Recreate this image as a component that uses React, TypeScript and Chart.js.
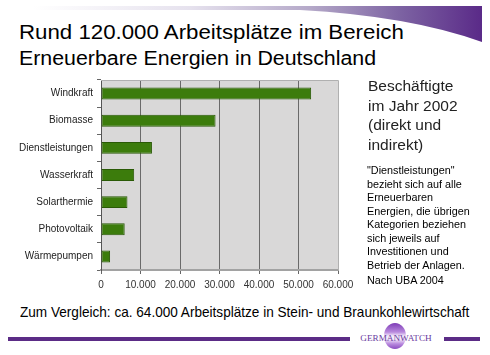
import React, { useEffect, useRef } from "react";
import { Chart, registerables } from "chart.js";

Chart.register(...registerables);

const categories = [
  "Windkraft",
  "Biomasse",
  "Dienstleistungen",
  "Wasserkraft",
  "Solarthermie",
  "Photovoltaik",
  "Wärmepumpen",
];
const employees = [53200, 29000, 12900, 8400, 6700, 6000, 2300];
const xTickLabels = ["0", "10.000", "20.000", "30.000", "40.000", "50.000", "60.000"];

const titleLines = [
  "Rund 120.000 Arbeitsplätze im Bereich",
  "Erneuerbare Energien in Deutschland",
];
const sideHeading = ["Beschäftigte", "im Jahr 2002", "(direkt und", "indirekt)"];
const sideNote = [
  "\"Dienstleistungen\"",
  "bezieht sich auf alle",
  "Erneuerbaren",
  "Energien, die übrigen",
  "Kategorien beziehen",
  "sich jeweils auf",
  "Investitionen und",
  "Betrieb der Anlagen.",
];
const sourceNote = "Nach UBA 2004";
const footerText =
  "Zum Vergleich: ca. 64.000 Arbeitsplätze in Stein- und Braunkohlewirtschaft";
const logoText = "GERMANWATCH";

const FONT = "'Liberation Sans', Arial, Helvetica, sans-serif";

const plotBg = {
  id: "plotBg",
  beforeDraw(chart: any) {
    const { ctx, chartArea: a } = chart;
    ctx.save();
    ctx.fillStyle = "#d9d8d8";
    ctx.fillRect(a.left, a.top, a.right - a.left, a.bottom - a.top);
    ctx.restore();
  },
  afterDraw(chart: any) {
    const { ctx, chartArea: a } = chart;
    ctx.save();
    ctx.strokeStyle = "#b0b0b0";
    ctx.lineWidth = 1;
    ctx.beginPath();
    ctx.moveTo(a.left, a.top + 0.5);
    ctx.lineTo(a.right + 0.5, a.top + 0.5);
    ctx.lineTo(a.right + 0.5, a.bottom);
    ctx.stroke();
    ctx.restore();
  },
};

function BarChart() {
  const ref = useRef<HTMLCanvasElement | null>(null);
  useEffect(() => {
    if (!ref.current) return;
    const chart = new Chart(ref.current, {
      type: "bar",
      data: {
        labels: categories,
        datasets: [
          {
            data: employees,
            backgroundColor: "#3c7c0c",
            borderColor: "#2a5a06",
            borderWidth: 1,
            borderSkipped: false,
            categoryPercentage: 0.8,
            barPercentage: 0.55,
          },
        ],
      },
      options: {
        indexAxis: "y",
        responsive: false,
        animation: false,
        devicePixelRatio: 1,
        layout: { padding: { top: 8, right: 32, bottom: 0, left: 0 } },
        plugins: {
          legend: { display: false },
          tooltip: { enabled: false },
          title: { display: false },
        },
        scales: {
          x: {
            type: "linear",
            min: 0,
            max: 60000,
            ticks: {
              stepSize: 10000,
              padding: 5,
              color: "#333",
              font: { family: FONT, size: 10 },
              callback: (_v: any, i: number) => xTickLabels[i],
            },
            grid: {
              color: (c: any) => (c.index === 6 ? "rgba(0,0,0,0)" : "#6a6a6a"),
              tickColor: "#666",
              tickLength: 4,
              lineWidth: 1,
            },
            border: { display: true, color: "#a2a2a2", width: 2 },
            afterFit: (s: any) => {
              s.height = 30;
            },
          },
          y: {
            type: "category",
            ticks: {
              padding: 4,
              color: "#222",
              font: { family: FONT, size: 10 },
            },
            grid: {
              drawOnChartArea: false,
              offset: true,
              tickColor: "#666",
              tickLength: 4,
            },
            border: { display: true, color: "#555", width: 1 },
            afterFit: (s: any) => {
              s.width = 101;
            },
          },
        },
      },
      plugins: [plotBg],
    } as any);
    return () => chart.destroy();
  }, []);
  return (
    <canvas
      ref={ref}
      width={370}
      height={230}
      style={{ position: "absolute", left: 0, top: 70, width: 370, height: 230 }}
    />
  );
}

export default function App() {
  const abs = (o: any) => ({ position: "absolute", whiteSpace: "nowrap", fontFamily: FONT, ...o });
  return (
    <div
      style={{
        position: "fixed",
        left: 0,
        top: 0,
        width: 490,
        height: 355,
        background: "#ffffff",
        overflow: "hidden",
      }}
    >
      <svg width={490} height={355} style={{ position: "absolute", left: 0, top: 0 }}>
        <defs>
          <linearGradient id="swoosh" x1="33" y1="0" x2="482" y2="0" gradientUnits="userSpaceOnUse">
            <stop offset="0" stopColor="#ffffff" />
            <stop offset="0.35" stopColor="#e6e2ee" />
            <stop offset="0.62" stopColor="#b4a8c8" />
            <stop offset="0.82" stopColor="#7c62a2" />
            <stop offset="1" stopColor="#5a2a88" />
          </linearGradient>
          <linearGradient id="globe" x1="0" y1="0" x2="0" y2="1">
            <stop offset="0" stopColor="#7e3cb6" />
            <stop offset="0.35" stopColor="#b98ade" />
            <stop offset="0.5" stopColor="#f4ecfa" />
            <stop offset="0.62" stopColor="#f4ecfa" />
            <stop offset="0.8" stopColor="#b98ade" />
            <stop offset="1" stopColor="#8a4cc0" />
          </linearGradient>
        </defs>
        <path d="M33,6 H482 V42 Q410,16 300,10 H33 Z" fill="url(#swoosh)" />
        <rect x={8} y={337} width={342} height={4} fill="#5b2c86" />
        <rect x={444} y={337} width={36} height={4} fill="#5b2c86" />
        <ellipse cx={395} cy={336} rx={11} ry={13} fill="url(#globe)" />
        <text
          x={396}
          y={340.5}
          textAnchor="middle"
          fontFamily="'Liberation Serif', 'Times New Roman', serif"
          fontSize={9.2}
          fill="#6a3aa0"
        >
          {logoText}
        </text>
      </svg>

      <div style={abs({ left: 19, top: 19, fontSize: 20, lineHeight: "26px", color: "#000", transform: "scaleX(1.113)", transformOrigin: "0 0" })}>
        {titleLines[0]}
      </div>
      <div style={abs({ left: 19, top: 44.5, fontSize: 20, lineHeight: "26px", color: "#000", transform: "scaleX(1.067)", transformOrigin: "0 0" })}>
        {titleLines[1]}
      </div>

      <BarChart />

      <div style={abs({ left: 368, top: 76, fontSize: 15.5, lineHeight: "19.5px", color: "#222" })}>
        {sideHeading.map((l, i) => (
          <div key={i}>{l}</div>
        ))}
      </div>
      <div style={abs({ left: 367, top: 164, fontSize: 10.8, lineHeight: "13.5px", color: "#000" })}>
        {sideNote.map((l, i) => (
          <div key={i}>{l}</div>
        ))}
        <div style={{ marginTop: 2 }}>{sourceNote}</div>
      </div>

      <div style={abs({ left: 20, top: 304.5, fontSize: 14.5, lineHeight: "14.5px", color: "#000", transform: "scaleX(0.937)", transformOrigin: "0 0" })}>
        {footerText}
      </div>
    </div>
  );
}
